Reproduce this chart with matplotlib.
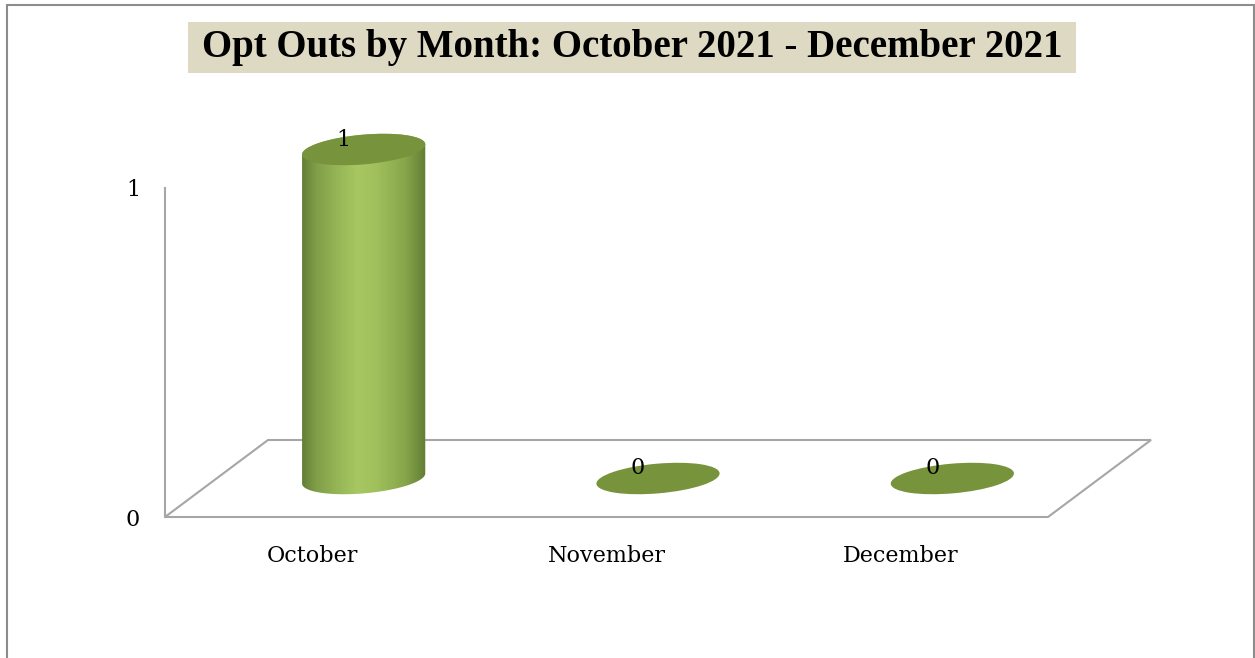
import numpy as np
import matplotlib.pyplot as plt
import matplotlib.transforms as mtransforms
from matplotlib.colors import LinearSegmentedColormap
from matplotlib.patches import Ellipse, Polygon, Rectangle

# data
months = ['October', 'November', 'December']
opt_outs = [1, 0, 0]
y_ticks = [0, 1]
chart_title = 'Opt Outs by Month: October 2021 - December 2021'

plt.rcParams['font.family'] = ['DejaVu Serif']

W, H = 1255, 658
fig = plt.figure(figsize=(W / 100, H / 100), dpi=100)
ident = mtransforms.IdentityTransform()

# plot area = front face of the 3D floor (pixels)
x0, x1, y_top, y_bot = 165, 1048, 188, 517
ax = fig.add_axes([x0 / W, 1 - y_bot / H, (x1 - x0) / W, (y_bot - y_top) / H])
ax.set_xlim(-0.5, len(months) - 0.5)
ax.set_ylim(0, max(y_ticks))
ax.patch.set_visible(False)
for s in ['top', 'right', 'bottom']:
    ax.spines[s].set_visible(False)
ax.spines['left'].set_color('#A6A6A6')
ax.spines['left'].set_linewidth(1.5)
ax.set_xticks(range(len(months)), months)
ax.set_yticks(y_ticks)
ax.tick_params(length=0, labelsize=16)
ax.tick_params(axis='y', pad=18)
ax.tick_params(axis='x', pad=20)

# 3D depth of the floor in pixels; bars stand half way back
depth = np.array([103.0, 77.0])
trans = ax.transData + mtransforms.Affine2D().translate(*(depth * 0.5))

# floor outline
front = ax.transData.transform([(-0.5, 0), (len(months) - 0.5, 0)])
floor = np.vstack([front[0], front[1], front[1] + depth, front[0] + depth])
ax.add_patch(Polygon(floor, closed=True, fill=False, edgecolor='#A6A6A6',
                     lw=1.5, transform=ident, zorder=1, clip_on=False))

# cylinder geometry (pixels)
px_per_cat = (x1 - x0) / len(months)
a = 0.42 * px_per_cat / 2
b = a * 0.24
ang = 5
theta = np.radians(ang)


def ellipse_pts(t):
    x = a * np.cos(t) * np.cos(theta) - b * np.sin(t) * np.sin(theta)
    y = a * np.cos(t) * np.sin(theta) + b * np.sin(t) * np.cos(theta)
    return np.column_stack([x, y])


t_l = np.pi - np.arctan(b / a * np.tan(theta))
lower = ellipse_pts(np.linspace(t_l, t_l + np.pi, 120))
upper = ellipse_pts(np.linspace(t_l + np.pi, t_l + 2 * np.pi, 120))

cyl_cmap = LinearSegmentedColormap.from_list('cyl', [
    (0.0, '#5E7B33'), (0.12, '#7E9D47'), (0.3, '#97B757'), (0.45, '#A6C761'),
    (0.6, '#A0C05C'), (0.82, '#87A64C'), (0.95, '#6A8739'), (1.0, '#5C7531')])
grad = np.linspace(0, 1, 256).reshape(1, -1)

for i, v in enumerate(opt_outs):
    bx, by = trans.transform((i, 0))
    tx, ty = trans.transform((i, v))
    if v > 0:
        body = np.vstack([lower + (bx, by), upper + (tx, ty)])
        clip = Polygon(body, closed=True, transform=ident)
        im = ax.imshow(grad, cmap=cyl_cmap, aspect='auto', transform=ident,
                       extent=(bx - a * 1.03, bx + a * 1.03, by - 2 * b, ty + 2 * b),
                       zorder=2, interpolation='bilinear')
        im.set_clip_box(fig.bbox)
        im.set_clip_path(clip)
    ax.add_patch(Ellipse((tx, ty), 2 * a, 2 * b, angle=ang, transform=ident,
                         facecolor='#77933C', edgecolor='none', zorder=3, clip_on=False))
    ax.annotate(f'{v}', (i, v), xycoords=trans, xytext=(-20, 10),
                textcoords='offset pixels', ha='center', va='center',
                fontsize=16, zorder=4)

# title with tan box
fig.add_artist(Rectangle((188 / W, 1 - 73 / H), 888 / W, 51 / H,
                         transform=fig.transFigure, facecolor='#DDD9C3',
                         edgecolor='none'))
fig.text(632 / W, 1 - 48 / H, chart_title, ha='center', va='center',
         fontsize=28, fontweight='bold', family='Liberation Serif')

# outer chart border
fig.add_artist(Rectangle((7 / W, -0.1), 1247 / W, 1.1 - 5 / H,
                         transform=fig.transFigure, fill=False,
                         edgecolor='#8C8C8C', lw=1.5))

fig.savefig('out.png', dpi=100, facecolor='white')
